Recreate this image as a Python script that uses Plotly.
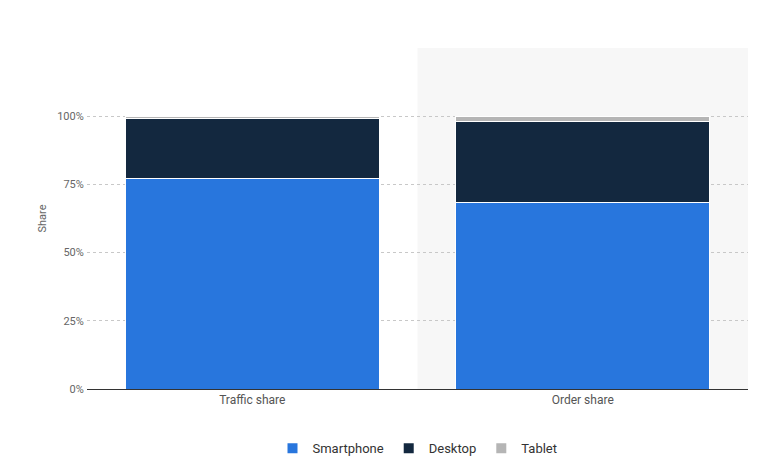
import plotly.graph_objects as go

categories = ["Traffic share", "Order share"]
smartphone = [77, 68.3]
desktop = [22, 29.6]
tablet = [1, 2.1]

fig = go.Figure()
fig.add_trace(go.Bar(x=categories, y=smartphone, name="Smartphone", marker_color="#2876dd",
                     marker_line_color="white", marker_line_width=1))
fig.add_trace(go.Bar(x=categories, y=desktop, name="Desktop", marker_color="#13283f",
                     marker_line_color="white", marker_line_width=1))
fig.add_trace(go.Bar(x=categories, y=tablet, name="Tablet", marker_color="#b5b5b5",
                     marker_line_color="white", marker_line_width=1))

# light hover band behind the second category
fig.add_shape(type="rect", xref="x", yref="paper", x0=0.5, x1=1.5, y0=0, y1=1,
              fillcolor="#f7f7f7", line_width=0, layer="below")

fig.update_layout(
    barmode="stack",
    bargap=0.23,
    width=760, height=467,
    margin=dict(l=79, r=20, t=40, b=67),
    plot_bgcolor="white", paper_bgcolor="white",
    font=dict(family="Roboto, Arial, sans-serif", size=11, color="#666"),
    legend=dict(orientation="h", x=0.5, xanchor="center", y=-0.13, yanchor="top",
                font=dict(size=13, color="#333", family="Roboto, Arial, sans-serif"),
                itemsizing="constant", traceorder="normal"),
    showlegend=True,
)
fig.update_yaxes(range=[0, 125], tickvals=[0, 25, 50, 75, 100, 125],
                 ticktext=["0%", "25%", "50%", "75%", "100%", ""],
                 gridcolor="#c8c8c8", griddash="dot", zeroline=False,
                 title=dict(text="Share", font=dict(size=11, color="#666"), standoff=8),
                 ticklen=0, ticks="outside", tickcolor="white")
fig.update_xaxes(showline=True, linecolor="#333", linewidth=1, showgrid=False,
                 tickfont=dict(size=12, color="#555"))

fig.write_html("out.html")
